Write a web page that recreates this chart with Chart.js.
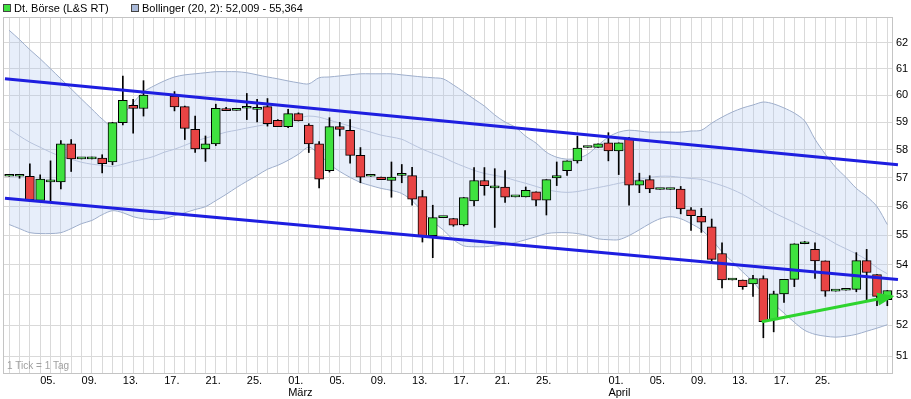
<!DOCTYPE html>
<html>
<head>
<meta charset="utf-8">
<title>Dt. Börse (L&amp;S RT)</title>
<script src="https://cdn.jsdelivr.net/npm/chart.js@4.4.1/dist/chart.umd.min.js"></script>
<style>
  html, body { margin: 0; padding: 0; background: #fff; }
  #chart { display: block; }
</style>
</head>
<body>
<canvas id="chart" width="911" height="399"></canvas>
<script>
// Legende und Achsen
const legendLabels = ['Dt. Börse (L&S RT)', 'Bollinger (20, 2): 52,009 - 55,364'];
const footNote = '1 Tick = 1 Tag';
const tickDays = [3, 7, 11, 15, 19, 23, 27, 31, 35, 39, 43, 47, 51, 58, 62, 66, 70, 74, 78];
const tickLabels = ['05.', '09.', '13.', '17.', '21.', '25.', ['01.', 'März'], '05.', '09.', '13.', '17.', '21.', '25.',
  ['01.', 'April'], '05.', '09.', '13.', '17.', '25.'];
const yTicks = [51, 52, 53, 54, 55, 56, 57, 58, 59, 60, 61, 62];

// Kerzen (Tagesindex, Eröffnung, Hoch, Tief, Schluss)
const days = [0, 1, 2, 3, 4, 5, 6, 7, 8, 9, 10, 11, 12, 13,
  16, 17, 18, 19, 20, 21, 22, 23, 24, 25, 26, 27, 28, 29, 30,
  31, 32, 33, 34, 35, 36, 37, 38, 39, 40, 41, 42, 43, 44, 45,
  46, 47, 48, 49, 50, 51, 52, 53, 54, 55, 56, 57, 58, 59, 60,
  61, 62, 63, 64, 65, 66, 67, 68, 69, 70, 71, 72, 73, 74, 75,
  76, 77, 78, 79, 80, 81, 82, 83, 84, 85];
const openP = [57.05, 57.05, 57.05, 56.20, 56.85, 56.85, 58.21, 57.67, 57.67, 57.70, 57.56, 58.99, 59.63, 59.51,
  59.97, 59.58, 58.74, 58.03, 58.21, 59.51, 59.44, 59.52, 59.48, 59.58, 59.07, 58.84, 59.32, 58.90, 58.21,
  57.25, 58.84, 58.71, 57.80, 57.05, 57.02, 56.90, 57.08, 57.07, 56.33, 54.98, 55.60, 55.57, 55.35, 56.18,
  56.90, 56.64, 56.67, 56.32, 56.32, 56.50, 56.21, 56.99, 57.25, 57.60, 58.08, 58.08, 58.25, 57.96, 58.42,
  56.73, 56.93, 56.58, 56.58, 56.60, 55.87, 55.64, 55.28, 54.37, 53.48, 53.48, 53.35, 53.53, 52.17, 53.02,
  53.50, 54.70, 54.51, 54.12, 53.11, 53.14, 53.17, 54.13, 53.66, 52.83];
const highP = [57.05, 57.05, 57.49, 57.10, 57.60, 58.33, 58.37, 57.67, 57.74, 57.82, 59.00, 60.72, 59.85, 60.55,
  60.14, 59.60, 59.23, 58.50, 59.67, 59.55, 59.44, 60.07, 59.85, 59.88, 59.10, 59.48, 59.35, 58.95, 58.30,
  59.17, 59.00, 59.10, 58.08, 57.05, 57.02, 57.56, 57.47, 57.37, 56.55, 56.03, 55.60, 55.57, 56.30, 57.36,
  57.36, 57.32, 57.25, 56.32, 56.67, 56.50, 56.93, 57.56, 57.60, 58.49, 58.08, 58.21, 58.62, 58.25, 58.45,
  57.16, 57.07, 56.58, 56.58, 56.69, 55.95, 55.92, 55.55, 54.73, 53.48, 53.48, 53.64, 53.62, 53.11, 53.50,
  54.70, 54.78, 54.73, 54.12, 53.11, 53.14, 54.40, 54.51, 53.66, 53.13];
const lowP = [57.05, 56.98, 56.15, 56.20, 56.18, 56.60, 57.22, 57.67, 57.67, 57.17, 57.46, 58.90, 58.60, 59.23,
  59.42, 58.37, 57.90, 57.58, 58.15, 59.43, 59.44, 59.10, 59.01, 58.86, 58.84, 58.80, 59.05, 57.90, 56.64,
  57.20, 58.50, 57.52, 56.82, 57.05, 56.93, 56.31, 56.82, 56.03, 54.76, 54.23, 55.60, 55.30, 55.31, 56.01,
  56.38, 55.26, 56.13, 56.32, 56.32, 56.01, 55.69, 56.72, 57.08, 57.52, 58.08, 58.08, 57.60, 57.11, 56.03,
  56.47, 56.47, 56.58, 56.58, 55.73, 55.16, 55.09, 54.09, 53.22, 53.48, 53.17, 52.94, 51.59, 51.78, 52.74,
  53.26, 54.70, 53.53, 52.94, 53.11, 53.14, 53.09, 52.83, 52.63, 52.63];
const closeP = [57.05, 57.05, 56.22, 56.95, 56.88, 58.21, 57.67, 57.67, 57.74, 57.50, 58.99, 59.81, 59.51, 60.01,
  59.57, 58.78, 58.03, 58.21, 59.52, 59.43, 59.44, 59.52, 59.48, 58.95, 58.84, 59.32, 59.05, 58.21, 56.95,
  58.84, 58.74, 57.80, 57.02, 57.05, 56.93, 57.02, 57.08, 56.24, 54.98, 55.60, 55.60, 55.34, 56.30, 56.90,
  56.72, 56.64, 56.31, 56.32, 56.55, 56.21, 56.93, 57.07, 57.60, 58.06, 58.08, 58.21, 57.96, 58.25, 56.73,
  56.90, 56.60, 56.58, 56.58, 55.90, 55.67, 55.44, 54.17, 53.48, 53.48, 53.26, 53.53, 52.11, 53.02, 53.50,
  54.70, 54.70, 54.12, 53.11, 53.11, 53.14, 54.13, 53.73, 52.94, 53.13];

// Bollinger-Bänder (20, 2), ein Wert pro Tag 0..85
const bandDays = Array.from({ length: 86 }, (_, i) => i);
const bollUpper = [62.48, 62.12, 61.73, 61.38, 61.00, 60.62, 60.24, 59.86, 59.49, 59.12,
  58.86, 59.27, 59.72, 60.13, 60.35, 60.54, 60.69, 60.77, 60.81, 60.85,
  60.89, 60.89, 60.89, 60.85, 60.77, 60.69, 60.62, 60.54, 60.47, 60.43,
  60.66, 60.69, 60.73, 60.77, 60.81, 60.81, 60.81, 60.81, 60.77, 60.73,
  60.69, 60.66, 60.62, 60.39, 60.13, 59.86, 59.60, 59.27, 59.01, 58.82,
  58.49, 58.24, 57.91, 57.73, 57.66, 57.69, 57.84, 58.16, 58.46, 58.64,
  58.71, 58.68, 58.64, 58.64, 58.64, 58.64, 58.68, 58.71, 58.97, 59.19,
  59.38, 59.53, 59.64, 59.75, 59.68, 59.53, 59.34, 59.05, 58.38, 57.84,
  57.37, 57.01, 56.62, 56.34, 55.98, 55.36];
const bollMiddle = [58.75, 58.50, 58.27, 58.09, 57.91, 57.76, 57.66, 57.55, 57.48, 57.44,
  57.40, 57.48, 57.58, 57.66, 57.76, 57.91, 58.02, 58.16, 58.31, 58.42,
  58.53, 58.64, 58.71, 58.79, 58.86, 58.93, 59.01, 59.08, 59.16, 59.23,
  59.19, 59.08, 58.97, 58.86, 58.75, 58.64, 58.53, 58.46, 58.38, 58.20,
  58.02, 57.87, 57.73, 57.55, 57.40, 57.26, 57.15, 57.08, 57.01, 56.90,
  56.80, 56.69, 56.58, 56.51, 56.48, 56.51, 56.58, 56.65, 56.72, 56.80,
  56.87, 56.94, 57.01, 57.05, 57.05, 57.01, 56.97, 56.94, 56.83, 56.72,
  56.58, 56.41, 56.20, 55.98, 55.77, 55.60, 55.43, 55.25, 55.08, 54.91,
  54.70, 54.53, 54.36, 54.16, 53.89, 53.69];
const bollLower = [55.36, 55.22, 55.08, 55.05, 55.05, 55.08, 55.22, 55.39, 55.50, 55.70,
  55.84, 55.77, 55.63, 55.56, 55.53, 55.56, 55.67, 55.77, 55.88, 55.98,
  56.19, 56.41, 56.65, 56.87, 57.08, 57.30, 57.44, 57.62, 57.84, 58.09,
  57.84, 57.48, 57.22, 57.01, 56.83, 56.72, 56.62, 56.55, 56.44, 56.19,
  55.81, 55.46, 55.18, 54.84, 54.63, 54.60, 54.60, 54.63, 54.67, 54.74,
  54.84, 54.94, 55.05, 55.08, 55.08, 55.05, 54.98, 54.87, 54.84, 54.84,
  54.98, 55.18, 55.39, 55.56, 55.63, 55.56, 55.39, 55.18, 54.84, 54.43,
  54.09, 53.75, 53.42, 53.02, 52.69, 52.39, 52.09, 51.83, 51.70, 51.64,
  51.61, 51.64, 51.70, 51.80, 51.90, 52.01];

// Trendkanal und Pfeil
const trendDays = [-0.41, 86.03];
const trendUpper = [60.62, 57.46];
const trendLower = [56.27, 53.50];
const arrowDays = [72.84, 85.5];
const arrowValues = [52.11, 52.94];

const GREEN = '#3fe23f';
const RED = '#e84444';
const BLUE = '#1e1ee0';
const ARROW = '#2ed42e';
const GRID = '#d9d9d9';

function punkte(xs, ys) {
  return xs.map((x, i) => ({ x: x, y: ys[i] }));
}

const bodyColors = days.map((d, i) => closeP[i] >= openP[i] ? GREEN : RED);

// Rahmen, Legende, Fußnote und Pfeilspitze
const extras = {
  id: 'extras',
  beforeDatasetsDraw(chart) {
    const { ctx, chartArea: a } = chart;
    ctx.save();
    ctx.strokeStyle = '#c4c4c4';
    ctx.lineWidth = 1;
    ctx.strokeRect(a.left + 0.5, a.top + 0.5, a.right - a.left - 1, a.bottom - a.top);
    ctx.fillStyle = '#a0a0a0';
    ctx.font = '10px "Liberation Sans"';
    ctx.textBaseline = 'middle';
    ctx.fillText(footNote, a.left + 4, a.bottom - 7);
    ctx.restore();
  },
  afterDatasetsDraw(chart) {
    const ctx = chart.ctx;
    const pts = chart.getDatasetMeta(7).data;
    const a = pts[pts.length - 2], b = pts[pts.length - 1];
    const ang = Math.atan2(b.y - a.y, b.x - a.x);
    ctx.save();
    ctx.fillStyle = ARROW;
    ctx.translate(b.x, b.y);
    ctx.rotate(ang);
    ctx.beginPath();
    ctx.moveTo(2, 0);
    ctx.lineTo(-15, -6.5);
    ctx.lineTo(-15, 6.5);
    ctx.closePath();
    ctx.fill();
    ctx.restore();
  },
  afterDraw(chart) {
    const ctx = chart.ctx;
    const boxes = [[3, GREEN], [131, '#a9b9d9']];
    ctx.save();
    ctx.font = '11px "Liberation Sans"';
    ctx.textBaseline = 'middle';
    boxes.forEach(([x, col], i) => {
      ctx.fillStyle = col;
      ctx.fillRect(x, 4, 8, 8);
      ctx.strokeStyle = '#444';
      ctx.strokeRect(x + 0.5, 4.5, 7, 7);
      ctx.fillStyle = '#000';
      ctx.fillText(legendLabels[i], x + 11, 9);
    });
    ctx.restore();
  }
};

Chart.defaults.font.family = '"Liberation Sans", Arial, sans-serif';
Chart.defaults.font.size = 11;

new Chart(document.getElementById('chart'), {
  type: 'bar',
  data: {
    datasets: [
      {
        type: 'line', label: 'upper', data: punkte(bandDays, bollUpper),
        borderColor: '#9eaecb', borderWidth: 1, pointRadius: 0, tension: 0.3,
        fill: 2, backgroundColor: 'rgba(175, 200, 240, 0.3)', order: 9
      },
      {
        type: 'line', label: 'middle', data: punkte(bandDays, bollMiddle),
        borderColor: '#b7c3dc', borderWidth: 1, pointRadius: 0, tension: 0.3, fill: false, order: 8
      },
      {
        type: 'line', label: 'lower', data: punkte(bandDays, bollLower),
        borderColor: '#9eaecb', borderWidth: 1, pointRadius: 0, tension: 0.3, fill: false, order: 7
      },
      {
        label: 'wick', data: days.map((d, i) => ({ x: d, y: [lowP[i], highP[i]] })),
        backgroundColor: '#000', barThickness: 1, grouped: false, order: 6
      },
      {
        label: 'body', data: days.map((d, i) => ({ x: d, y: [openP[i], closeP[i]] })),
        backgroundColor: bodyColors, borderColor: '#000', borderWidth: 1, borderSkipped: false,
        barThickness: 9, minBarLength: 2, grouped: false, order: 5
      },
      {
        type: 'line', label: 'trendUpper', data: punkte(trendDays, trendUpper),
        borderColor: BLUE, borderWidth: 3, pointRadius: 0, fill: false, clip: false, order: 2
      },
      {
        type: 'line', label: 'trendLower', data: punkte(trendDays, trendLower),
        borderColor: BLUE, borderWidth: 3, pointRadius: 0, fill: false, clip: false, order: 1
      },
      {
        type: 'line', label: 'arrow', data: punkte(arrowDays, arrowValues),
        borderColor: ARROW, borderWidth: 3, pointRadius: 0, fill: false, clip: false, order: 0
      }
    ]
  },
  options: {
    responsive: false,
    animation: false,
    devicePixelRatio: 1,
    events: [],
    layout: { padding: { top: 17, left: 3, right: 0, bottom: 0 } },
    plugins: { legend: { display: false }, tooltip: { enabled: false } },
    scales: {
      x: {
        type: 'linear', min: -0.6, max: 85.55, offset: false,
        grid: { color: GRID, offset: false, drawTicks: false },
        border: { display: false },
        afterBuildTicks: s => { s.ticks = bandDays.map(v => ({ value: v })); },
        afterFit: s => { s.height = 26; },
        ticks: {
          autoSkip: false, maxRotation: 0, minRotation: 0, align: 'start', padding: 2, color: '#000',
          font: { size: 11, lineHeight: 1.1 },
          callback: v => {
            const k = tickDays.indexOf(v);
            return k < 0 ? '' : tickLabels[k];
          }
        }
      },
      y: {
        type: 'logarithmic', position: 'right', min: 50.47, max: 63.0,
        grid: { color: GRID, drawTicks: false },
        border: { display: false },
        afterBuildTicks: s => { s.ticks = yTicks.map(v => ({ value: v })); },
        afterFit: s => { s.width = 18; },
        ticks: { padding: 3, color: '#000', callback: v => String(v) }
      }
    }
  },
  plugins: [extras]
});
</script>
</body>
</html>
